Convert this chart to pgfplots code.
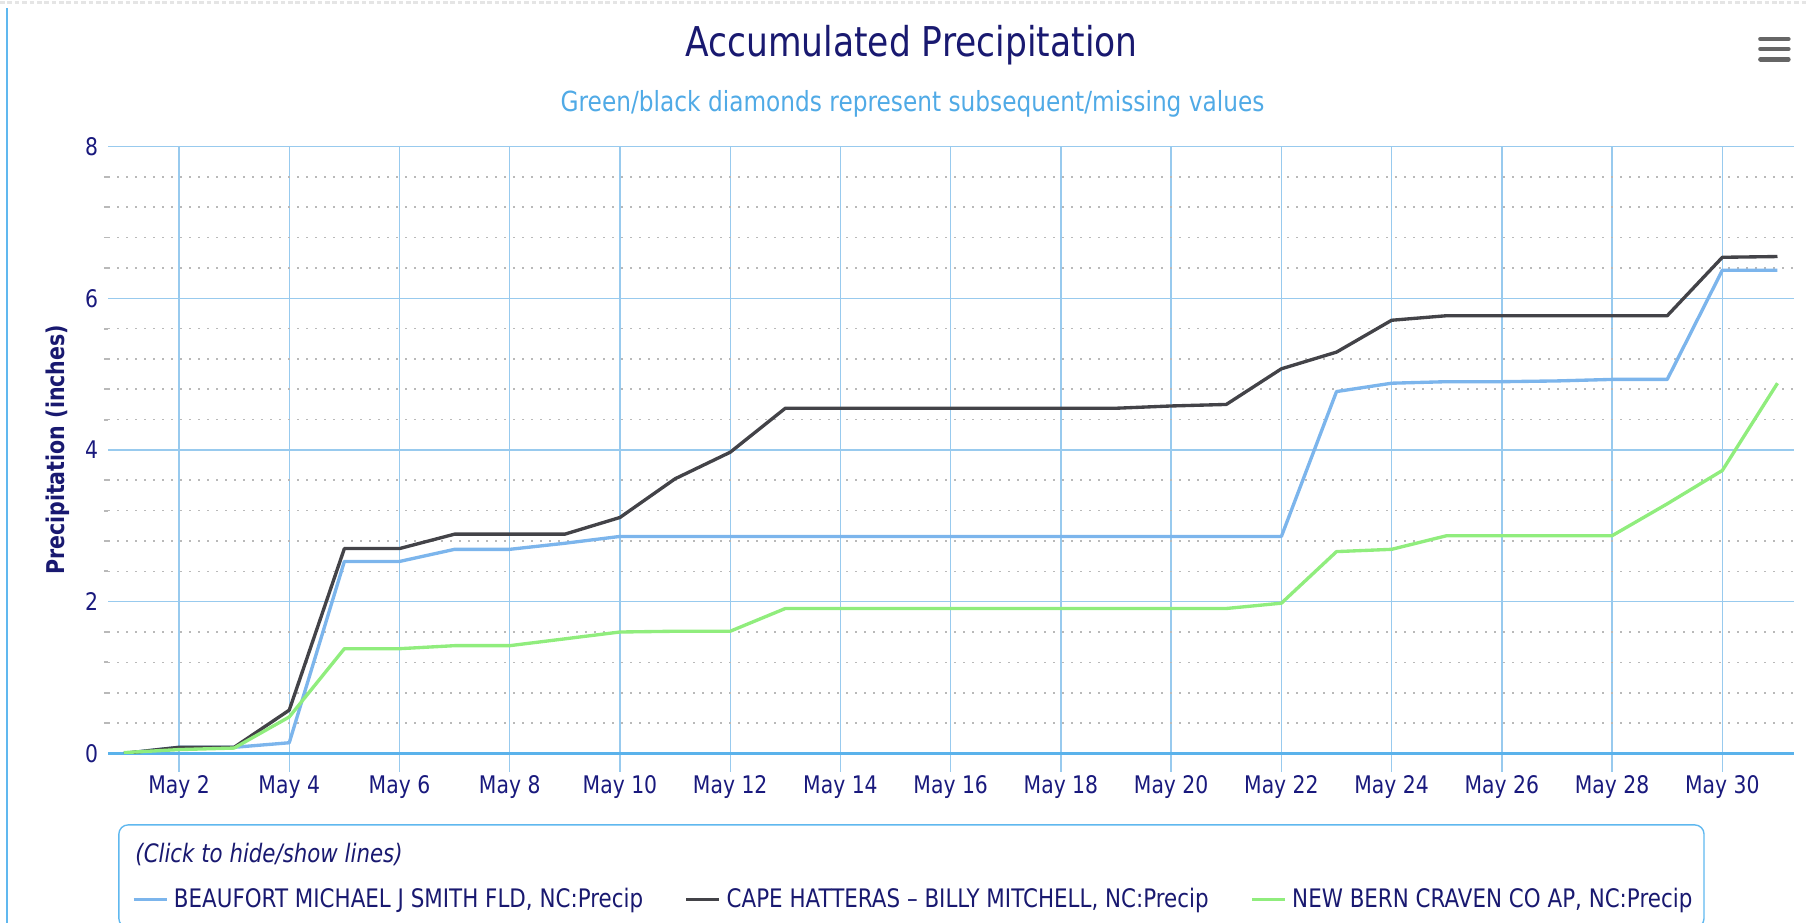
\documentclass[border=0pt]{standalone}
\usepackage{pgfplots}
\usepackage{pgfplotstable}
\pgfplotsset{compat=1.18}
\usepackage{fontspec}
\setmainfont[FakeStretch=0.84]{DejaVu Sans}
\definecolor{navy}{RGB}{25,25,112}
\definecolor{tickc}{RGB}{25,25,125}
\definecolor{subblue}{RGB}{80,170,230}
\definecolor{gridblue}{RGB}{152,202,238}
\definecolor{axisblue}{RGB}{90,178,235}
\definecolor{frameblue}{RGB}{96,184,239}
\definecolor{sBlue}{RGB}{124,181,236}
\definecolor{sBlack}{RGB}{67,67,72}
\definecolor{sGreen}{RGB}{144,237,125}
\definecolor{minorgray}{RGB}{185,185,185}

\pgfplotstableread{
day beaufort hatteras newbern
1 0.00 0.00 0.01
2 0.08 0.08 0.05
3 0.08 0.08 0.07
4 0.14 0.57 0.48
5 2.53 2.70 1.38
6 2.53 2.70 1.38
7 2.69 2.89 1.42
8 2.69 2.89 1.42
9 2.77 2.89 1.51
10 2.86 3.11 1.60
11 2.86 3.62 1.61
12 2.86 3.97 1.61
13 2.86 4.55 1.91
14 2.86 4.55 1.91
15 2.86 4.55 1.91
16 2.86 4.55 1.91
17 2.86 4.55 1.91
18 2.86 4.55 1.91
19 2.86 4.55 1.91
20 2.86 4.58 1.91
21 2.86 4.60 1.91
22 2.86 5.07 1.98
23 4.77 5.29 2.66
24 4.88 5.71 2.69
25 4.90 5.77 2.87
26 4.90 5.77 2.87
27 4.91 5.77 2.87
28 4.93 5.77 2.87
29 4.93 5.77 3.29
30 6.37 6.54 3.73
31 6.37 6.55 4.88
}\data

\begin{document}
\begin{tikzpicture}[x=0.5pt,y=0.5pt]
\useasboundingbox (0,0) rectangle (1568,800);
% top strip
\draw[gray!20, line width=1.5pt, dash pattern=on 2pt off 1.2pt] (0,798) -- (1568,798);
% left frame line
\draw[frameblue, line width=0.9pt] (5.8,0) -- (5.8,793);
% title and subtitle
\node[navy, inner sep=0pt, font=\fontsize{17.8}{20}\selectfont] at (790,761) {Accumulated Precipitation};
\node[subblue, inner sep=0pt, font=\fontsize{12}{14}\selectfont] at (791,710) {Green/black diamonds represent subsequent/missing values};
% menu icon
\foreach \yy in {766.2,757.5,748.6}
  \draw[black!60, line width=2.1pt, line cap=round] (1526,\yy) -- (1550,\yy);

\begin{axis}[
  at={(47pt,73.5pt)}, anchor=south west,
  width=730.5pt, height=263pt, scale only axis,
  xmin=0.72, xmax=31.30, ymin=0, ymax=8,
  xtick={2,4,...,30},
  xticklabels={May 2,May 4,May 6,May 8,May 10,May 12,May 14,May 16,May 18,May 20,May 22,May 24,May 26,May 28,May 30},
  ytick={0,2,4,6,8},
  minor y tick num=4,
  separate axis lines,
  axis x line*=bottom, axis y line*=left,
  x axis line style={axisblue, line width=1.3pt, -},
  y axis line style={draw=none},
  tick align=outside,
  major tick length=8pt, minor tick length=2pt,
  every major y tick/.append style={draw=none},
  every minor y tick/.append style={minorgray, line width=0.8pt},
  every major x tick/.append style={gridblue, line width=0.6pt},
  xmajorgrids, ymajorgrids, yminorgrids,
  major grid style={gridblue, line width=0.6pt},
  minor grid style={minorgray, line width=0.7pt, dash pattern=on 0.7pt off 3.2pt},
  /pgf/number format/assume math mode=true,
  ticklabel style={tickc, font=\fontsize{10.5}{12}\selectfont},
  yticklabel style={xshift=7pt},
  xticklabel style={yshift=2pt},
  ylabel={Precipitation (inches)},
  ylabel style={navy, font=\bfseries\fontsize{10.6}{12}\selectfont, at={(axis description cs:-0.0300,0.5)}, anchor=center},
  legend columns=3,
  legend style={at={(axis description cs:0.0137,-0.2405)}, anchor=west, draw=none, fill=none, inner sep=0pt,
    font=\fontsize{11.05}{12}\selectfont, text=navy,
    nodes={inner sep=1.5pt},
    column sep=1pt,
    /tikz/every even column/.append style={column sep=16.5pt}},
  legend image code/.code={\draw[#1, line width=1.4pt] (0pt,0pt) -- (14.3pt,0pt);},
]
\addplot[sBlue, line width=1.45pt, line join=round] table[x=day,y=beaufort]{\data};
\addlegendentry{BEAUFORT MICHAEL J SMITH FLD, NC:Precip}
\addplot[sBlack, line width=1.45pt, line join=round] table[x=day,y=hatteras]{\data};
\addlegendentry{CAPE HATTERAS – BILLY MITCHELL, NC:Precip}
\addplot[sGreen, line width=1.45pt, line join=round] table[x=day,y=newbern]{\data};
\addlegendentry{NEW BERN CRAVEN CO AP, NC:Precip}
\end{axis}

% legend box and title
\draw[frameblue, line width=0.6pt, rounded corners=4pt] (103,85) rectangle (1477,-4);
\node[anchor=west, inner sep=0pt, navy, font=\itshape\fontsize{11}{13}\selectfont] at (117,59) {(Click to hide/show lines)};
\end{tikzpicture}
\end{document}
